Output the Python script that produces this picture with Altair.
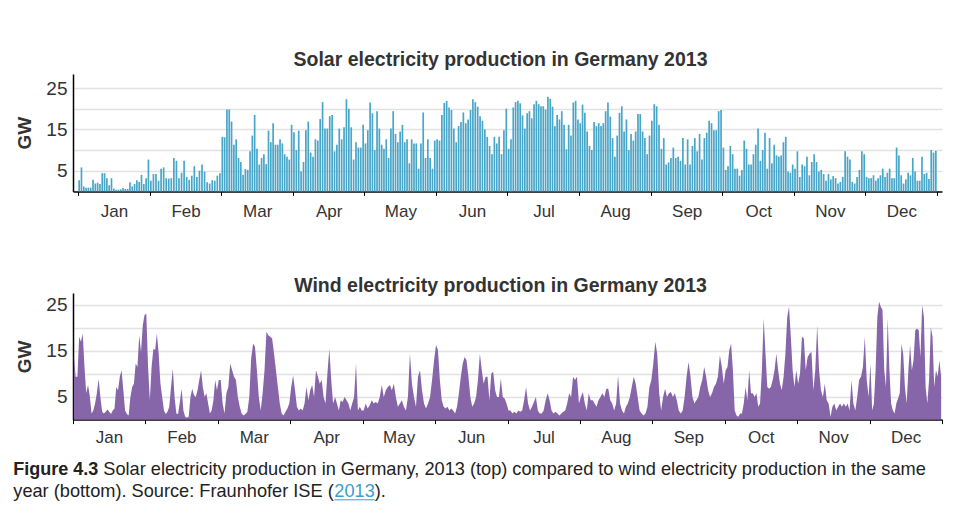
import altair as alt
import pandas as pd

MONTHS = ["Jan", "Feb", "Mar", "Apr", "May", "Jun", "Jul", "Aug", "Sep", "Oct", "Nov", "Dec"]

# ---- Solar: daily peak production (GW), one value per day ----
solar_jan = [2.7, 5.8, 1.2, 0.9, 0.9, 0.9, 2.8, 1.9, 2.1, 1.8, 4.4, 4.4, 3.2, 1.5, 3.2, 0.7, 0.4, 0.4, 0.5, 0.8,
             0.6, 0.6, 2.2, 1.2, 1.8, 2.7, 2.3, 4.0, 1.8, 3.2, 7.7]
solar_feb = [2.6, 4.2, 4.2, 2.6, 5.5, 5.8, 3.2, 3.1, 3.2, 8.1, 7.4, 3.2, 4.5, 7.4, 3.5, 2.8, 3.8, 6.1, 3.5, 5.0,
             6.5, 4.8, 2.2, 1.9, 2.7, 2.6, 3.8, 4.4]
solar_mar = [13.2, 13.1, 19.8, 19.8, 16.9, 11.3, 12.6, 8.1, 7.1, 4.0, 5.4, 5.2, 9.7, 13.5, 18.5, 10.3, 6.5, 8.1,
             9.0, 6.6, 14.7, 11.9, 16.5, 11.3, 11.3, 12.6, 11.6, 9.0, 8.4, 7.7, 16.1]
solar_apr = [14.3, 10.0, 14.7, 4.8, 7.1, 14.8, 16.9, 9.4, 8.4, 12.6, 12.3, 17.5, 21.6, 15.2, 15.2, 18.2, 18.5,
             9.7, 11.3, 15.2, 12.6, 15.5, 22.3, 20.0, 15.5, 7.7, 11.9, 10.6, 10.6, 16.1]
solar_may = [11.6, 14.8, 21.5, 18.9, 10.0, 19.4, 15.2, 11.3, 10.3, 12.6, 8.1, 15.2, 19.4, 13.9, 11.9, 14.5, 16.1,
             11.9, 12.6, 6.8, 12.6, 11.6, 11.6, 5.5, 11.6, 19.1, 8.1, 12.6, 8.1, 5.5, 12.3]
solar_jun = [12.6, 12.3, 18.5, 21.4, 21.9, 20.3, 19.7, 15.2, 11.9, 15.8, 16.8, 19.1, 16.5, 17.4, 19.7, 22.3,
             21.6, 20.5, 18.2, 17.1, 15.0, 13.2, 11.0, 9.0, 13.2, 11.6, 13.2, 9.0, 14.8, 20.0]
solar_jul = [10.3, 12.6, 20.3, 21.6, 21.9, 21.3, 18.4, 15.2, 18.9, 19.4, 17.7, 21.1, 21.9, 21.1, 20.6, 20.6,
             19.8, 22.9, 22.4, 20.5, 15.8, 18.5, 17.4, 19.4, 16.1, 10.2, 16.1, 13.5, 21.5, 21.9, 17.4]
solar_aug = [16.5, 21.0, 19.0, 14.5, 11.0, 10.0, 16.8, 15.8, 16.5, 15.8, 16.5, 19.4, 21.5, 18.1, 12.9, 8.4,
             13.5, 19.0, 20.6, 14.5, 17.4, 10.0, 13.9, 12.3, 14.5, 18.7, 18.7, 14.5, 12.9, 9.0, 13.5]
solar_sep = [17.1, 21.1, 20.6, 16.1, 10.3, 12.9, 6.5, 7.0, 8.1, 10.6, 8.1, 8.4, 7.4, 12.9, 6.5, 12.6, 6.5, 11.0,
             12.9, 9.7, 13.9, 7.7, 12.9, 14.2, 17.1, 16.5, 14.8, 14.8, 19.4, 19.7]
solar_oct = [10.6, 5.2, 6.1, 11.0, 9.0, 5.5, 5.5, 3.8, 5.2, 12.3, 10.3, 6.5, 6.5, 9.0, 11.3, 15.2, 7.4, 10.0,
             14.2, 5.5, 12.9, 6.8, 11.3, 8.7, 8.4, 8.7, 11.9, 13.2, 4.8, 4.5, 6.5]
solar_nov = [5.5, 9.7, 3.5, 6.5, 6.1, 8.4, 3.9, 7.1, 9.0, 7.1, 4.8, 5.2, 4.2, 2.6, 4.2, 2.9, 3.7, 3.2, 1.9, 2.3,
             3.5, 9.7, 8.4, 7.7, 2.3, 1.9, 3.5, 5.2, 9.7, 9.0]
solar_dec = [3.5, 3.2, 3.2, 3.9, 2.6, 3.2, 3.9, 5.5, 3.5, 4.5, 5.5, 3.2, 3.2, 10.6, 8.7, 3.9, 1.9, 2.9, 4.5, 3.9,
             8.1, 4.8, 2.6, 2.6, 8.4, 4.2, 4.5, 3.0, 10.0, 9.4, 9.8]

# ---- Wind: production (GW), samples read evenly across each month ----
wind_jan = [14.0, 9.3, 9.3, 18.0, 16.9, 18.7, 11.4, 5.7, 7.5, 5.1, 1.3, 2.0, 3.5, 5.7, 8.9, 4.9, 1.7, 1.3, 1.7, 2.2,
            1.7, 1.2, 2.0, 2.4, 7.1, 6.4, 9.3, 10.7, 6.4, 2.0, 1.2, 0.9, 4.9, 7.1, 7.8, 12.2, 11.4, 18.3, 14.7,
            20.5, 22.7]
wind_feb = [23.0, 11.4, 4.2, 11.4, 15.4, 15.1, 18.7, 14.3, 7.8, 4.9, 2.0, 1.2, 1.7, 2.8, 7.1, 11.1, 4.9, 1.3, 1.2,
            3.8, 6.7, 2.0, 0.6, 0.4, 0.6, 4.9, 6.7, 5.3, 4.9, 6.4, 8.6, 10.7, 7.1, 4.9, 5.7, 3.5, 1.3, 2.0, 4.2,
            8.6, 6.4]
wind_mar = [8.6, 8.6, 3.5, 1.3, 5.7, 7.1, 12.2, 10.7, 9.3, 8.6, 4.9, 2.8, 1.3, 0.9, 1.2, 1.7, 4.9, 13.3, 16.5,
            15.8, 10.7, 4.9, 2.0, 5.7, 10.7, 19.1, 18.3, 18.0, 17.6, 14.3, 10.7, 7.1, 3.5, 1.3, 0.9, 1.7, 2.4, 3.5]
wind_apr = [7.1, 9.6, 6.4, 2.8, 2.0, 2.4, 2.0, 3.5, 7.1, 4.2, 6.4, 7.5, 4.9, 10.7, 9.3, 7.8, 8.6, 4.9, 3.5, 10.0,
            15.4, 8.6, 3.5, 4.9, 3.5, 2.0, 4.2, 3.8, 4.9, 4.2, 3.5, 2.0, 3.5, 4.9, 12.2, 2.0, 2.8, 2.0]
wind_may = [2.0, 3.5, 2.4, 3.1, 4.2, 3.5, 3.8, 3.5, 4.9, 7.5, 4.9, 6.4, 7.1, 7.5, 6.4, 7.8, 4.9, 2.8, 3.5, 4.2,
            2.8, 2.0, 4.9, 14.3, 7.8, 4.9, 2.8, 9.3, 10.7, 6.4, 3.5, 2.4, 3.5, 4.9, 8.6, 12.9]
wind_jun = [16.2, 15.1, 8.6, 4.2, 2.8, 2.4, 2.8, 2.0, 2.4, 2.0, 1.3, 2.8, 5.7, 9.3, 12.2, 13.6, 12.9, 9.3, 4.9,
            2.8, 3.5, 4.9, 8.6, 14.3, 10.7, 7.8, 9.3, 9.3, 4.2, 10.0, 10.4, 6.4, 4.9, 4.9, 8.9, 4.9, 4.6, 3.5]
wind_jul = [2.0, 2.0, 1.3, 1.7, 1.3, 2.0, 1.7, 2.0, 4.2, 7.1, 3.5, 2.0, 2.8, 3.8, 4.9, 2.0, 1.3, 1.3, 2.0, 4.2,
            5.7, 4.2, 2.0, 1.3, 1.7, 1.3, 0.9, 1.3, 1.7, 2.0, 3.5, 5.7, 4.9, 9.3, 8.6, 9.3, 3.5]
wind_aug = [4.9, 6.0, 3.5, 2.0, 5.7, 4.2, 4.2, 3.5, 2.8, 4.2, 4.9, 5.7, 4.9, 6.7, 6.7, 4.2, 3.5, 2.0, 3.5, 9.6,
            3.5, 2.0, 1.3, 2.8, 3.5, 4.9, 7.1, 9.3, 7.8, 4.9, 2.0, 1.3, 0.9, 1.3, 2.8, 7.1, 8.6]
wind_sep = [12.2, 16.9, 14.3, 5.7, 2.0, 4.9, 6.7, 4.9, 5.7, 6.0, 4.9, 5.7, 4.2, 2.0, 1.3, 2.0, 4.9, 9.3, 12.5,
            9.3, 4.9, 3.5, 4.2, 4.9, 7.1, 8.6, 11.4, 9.3, 6.4, 4.9, 5.7, 7.1, 7.8, 9.3, 14.0, 11.4, 7.8]
wind_oct = [10.7, 11.4, 15.1, 16.5, 10.7, 2.0, 0.9, 0.6, 1.3, 1.3, 3.5, 7.1, 4.2, 10.7, 5.7, 5.7, 4.9, 5.7, 2.8,
            3.5, 10.7, 22.0, 14.3, 7.1, 6.7, 7.1, 8.6, 10.7, 14.3, 10.7, 7.8, 6.4, 9.3, 14.3, 22.3, 24.5, 18.0,
            10.7, 7.1, 10.7]
wind_nov = [7.8, 10.0, 18.0, 17.6, 10.7, 13.6, 14.3, 14.7, 6.4, 10.7, 20.5, 10.7, 6.4, 4.9, 7.8, 4.2, 3.5, 0.6,
            2.8, 3.5, 2.0, 2.8, 3.5, 2.8, 3.5, 2.8, 3.5, 2.0, 8.6, 3.5, 2.0, 4.9, 8.6, 9.3, 11.4, 18.0, 8.6, 4.9]
wind_dec = [12.2, 2.0, 3.5, 10.7, 22.3, 25.6, 24.5, 23.8, 10.7, 7.1, 22.0, 10.7, 3.5, 2.0, 1.3, 3.5, 4.6, 5.7,
            16.5, 14.3, 7.1, 3.5, 10.7, 16.2, 10.7, 12.9, 19.4, 19.8, 19.4, 13.6, 24.9, 22.3, 7.1, 3.5, 8.6, 20.1,
            18.0, 7.1, 10.7, 9.3, 12.9, 9.3]

SOLAR = [solar_jan, solar_feb, solar_mar, solar_apr, solar_may, solar_jun,
         solar_jul, solar_aug, solar_sep, solar_oct, solar_nov, solar_dec]
WIND = [wind_jan, wind_feb, wind_mar, wind_apr, wind_may, wind_jun,
        wind_jul, wind_aug, wind_sep, wind_oct, wind_nov, wind_dec]

SOLAR_TITLE = "Solar electricity production in Germany 2013"
WIND_TITLE = "Wind electricity production in Germany 2013"
CAPTION_BOLD = "Figure 4.3"
CAPTION_LINE1 = "Solar electricity production in Germany, 2013 (top) compared to wind electricity production in the same"
CAPTION_LINE2 = "year (bottom). Source: Fraunhofer ISE ("
CAPTION_LINK = "2013"
CAPTION_END = ")."


def to_frame(series):
    rows = []
    for m, vals in enumerate(series):
        n = len(vals)
        for i, v in enumerate(vals):
            rows.append({"t": m + (i + 0.5) / n, "gw": v})
    return pd.DataFrame(rows)


solar_df = to_frame(SOLAR)
wind_df = to_frame(WIND)

FONT = "Liberation Sans"
TEXT = "#333333"
W = 869
TITLE_X = 427.5
month_expr = "[" + ",".join("'%s'" % m for m in MONTHS) + ",''][datum.value]"


def x_axis(pad):
    return alt.Axis(values=list(range(13)), labelExpr=month_expr,
                    labelOffset={"condition": {"test": "datum.value >= 12", "value": 0}, "value": 36},
                    labelFlush=False, labelOverlap=False, tickSize=4, tickColor="black", domainColor="black",
                    domainWidth=1.5, grid=False, title=None, labelFontSize=17, labelColor=TEXT, labelFont=FONT,
                    labelPadding=pad)


def y_axis():
    return alt.Axis(values=[5, 10, 15, 20, 25], labelExpr="datum.value % 10 == 5 ? datum.label : ''",
                    grid=True, gridColor="#e2e2e2", gridWidth=1.5, ticks=False, domainColor="black",
                    domainWidth=1.5, title="GW", titleFontSize=19, titleFont=FONT, titleColor=TEXT,
                    titleFontWeight="bold", labelFontSize=19, labelFont=FONT, labelColor=TEXT,
                    labelPadding=6, titlePadding=11)


def text_layer(s, x, y, size, weight="normal", color="#222222", align="left"):
    return alt.Chart(pd.DataFrame({"s": [s]})).mark_text(
        align=align, baseline="alphabetic", font=FONT, fontSize=size, fontWeight=weight, color=color
    ).encode(text="s:N", x=alt.value(x), y=alt.value(y))


solar_bars = alt.Chart(solar_df).mark_bar(width=1.7, color="#48a6c9").encode(
    x=alt.X("t:Q", axis=x_axis(8), scale=alt.Scale(domain=[0, 12], nice=False)),
    y=alt.Y("gw:Q", axis=y_axis(), scale=alt.Scale(domain=[0, 28.4], nice=False)),
)
solar = alt.layer(
    solar_bars,
    text_layer(SOLAR_TITLE, TITLE_X, -8.3, 19.5, "bold", TEXT, "center"),
).properties(width=W, height=117.4)

wind_area = alt.Chart(wind_df).mark_area(color="#8765a9", interpolate="linear").encode(
    x=alt.X("t:Q", axis=x_axis(6), scale=alt.Scale(domain=[0, 12], nice=False)),
    y=alt.Y("gw:Q", axis=y_axis(), scale=alt.Scale(domain=[0, 27.5], nice=False)),
)

link_ul = alt.Chart(pd.DataFrame({"s": [CAPTION_LINK]})).mark_rule(color="#3a9fc8", strokeWidth=1).encode(
    x=alt.value(261.3), x2=alt.value(301.8), y=alt.value(206.8))

wind = alt.layer(
    wind_area,
    text_layer(WIND_TITLE, TITLE_X, -1.2, 19.5, "bold", TEXT, "center"),
    text_layer(CAPTION_BOLD, -59.7, 182.3, 18, "bold"),
    text_layer(CAPTION_LINE1, 30.3, 182.3, 18.2),
    text_layer(CAPTION_LINE2, -59.7, 204.3, 18.2),
    text_layer(CAPTION_LINK, 261.3, 204.3, 18.2, color="#3a9fc8"),
    link_ul,
    text_layer(CAPTION_END, 301.8, 204.3, 18.2),
).properties(width=W, height=126.6)

chart = alt.vconcat(solar, wind, spacing=55).properties(
    padding={"left": 5, "top": 41, "right": 5, "bottom": 0}
).configure_view(stroke=None)

chart.save("out.html", embed_options={"renderer": "svg", "actions": False})
